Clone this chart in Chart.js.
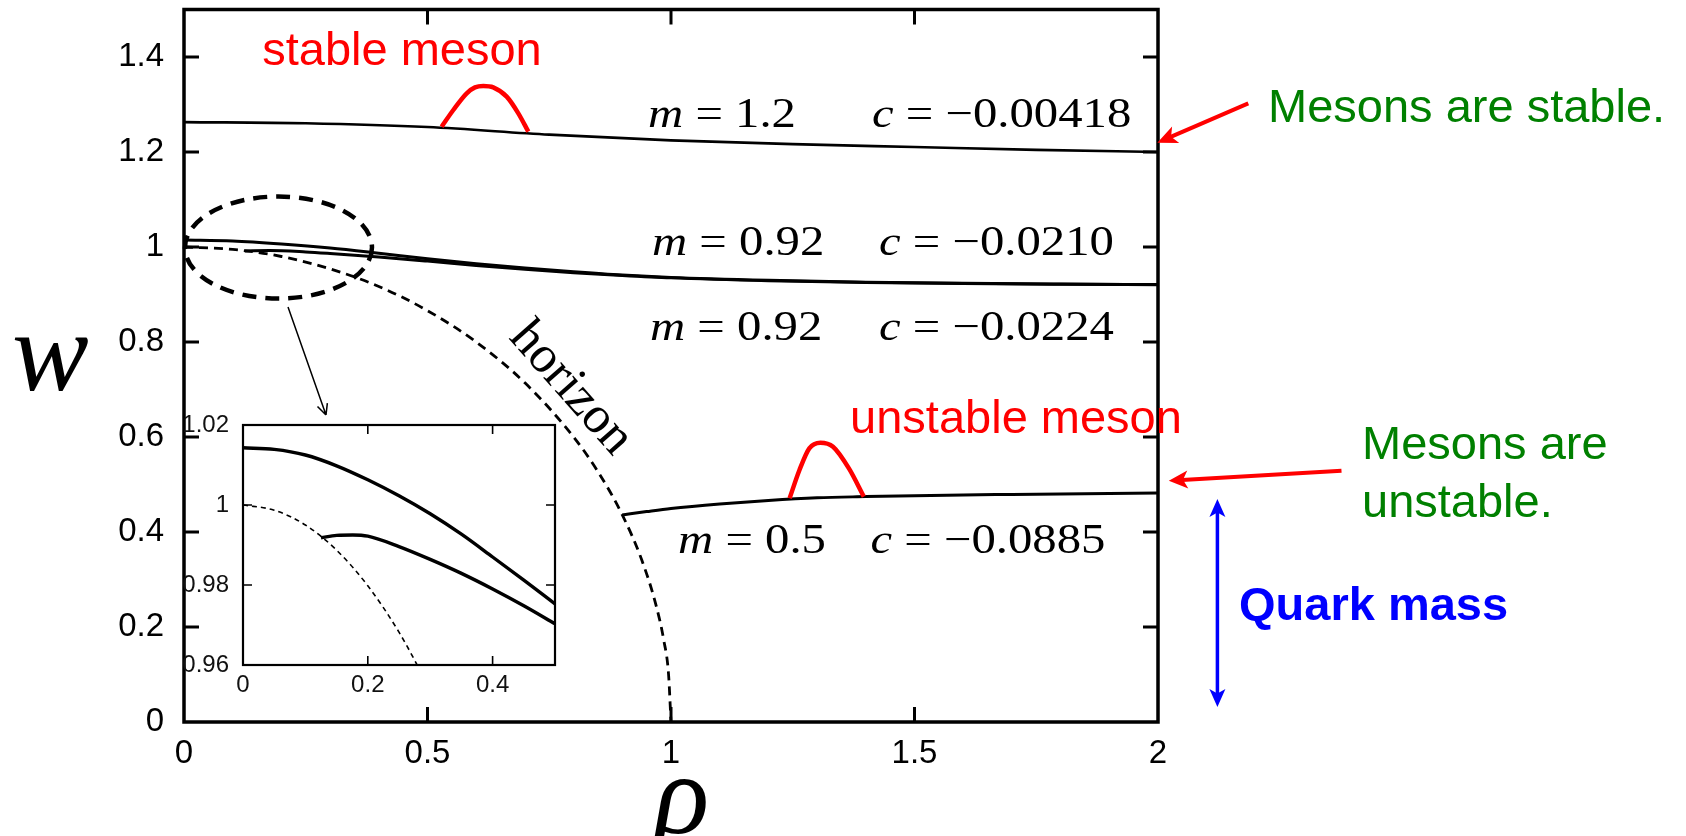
<!DOCTYPE html>
<html>
<head>
<meta charset="utf-8">
<script src="https://cdn.jsdelivr.net/npm/chart.js@4.4.0/dist/chart.umd.min.js"></script>
<style>
  html, body { margin: 0; padding: 0; background: #fff; overflow: hidden; }
  #wrap { position: relative; width: 1686px; height: 836px; }
  #main { position: absolute; left: 0; top: 0; }
  #inset { position: absolute; left: 160px; top: 400px; }
</style>
</head>
<body>
<div id="wrap">
  <canvas id="main" width="1686" height="836"></canvas>
  <canvas id="inset" width="420" height="310"></canvas>
</div>
<script>
// axes
const rhoTicks = [0, 0.5, 1, 1.5, 2];
const rhoTickLabels = ['0', '0.5', '1', '1.5', '2'];
const wTicks = [0, 0.2, 0.4, 0.6, 0.8, 1, 1.2, 1.4];
const wTickLabels = ['0', '0.2', '0.4', '0.6', '0.8', '1', '1.2', '1.4'];
const insetRhoTicks = [0, 0.2, 0.4];
const insetRhoTickLabels = ['0', '0.2', '0.4'];
const insetWTicks = [0.96, 0.98, 1, 1.02];
const insetWTickLabels = ['0.96', '0.98', '1', '1.02'];

// m = 1.2, c = -0.00418
const rhoM12 = [0, 0.25, 0.5, 0.75, 1.0, 1.25, 1.5, 1.75, 2.0];
const wM12 = [1.263, 1.2605, 1.2525, 1.2365, 1.2245, 1.2165, 1.2105, 1.2045, 1.2];

// m = 0.92, c = -0.0210
const rhoM092a = [0, 0.1, 0.2, 0.3, 0.4, 0.5, 0.6, 0.7, 0.8, 0.9, 1.0, 1.2, 1.4, 1.6, 1.8, 2.0];
const wM092a = [1.0145, 1.0125, 1.0063, 0.998, 0.987, 0.9753, 0.965, 0.956, 0.948, 0.941, 0.936, 0.930, 0.926, 0.9235, 0.922, 0.921];

// m = 0.92, c = -0.0224
const rhoM092b = [0.125, 0.176, 0.25, 0.3, 0.4, 0.5, 0.6, 0.7, 0.8, 0.9, 1.0, 1.2, 1.4, 1.6, 1.8, 2.0];
const wM092b = [0.9918, 0.9925, 0.9896, 0.9864, 0.979, 0.9703, 0.961, 0.953, 0.946, 0.940, 0.935, 0.929, 0.9255, 0.923, 0.9215, 0.9205];

// m = 0.5, c = -0.0885
const rhoM05 = [0.9, 0.95, 1.0, 1.1, 1.2, 1.3, 1.4, 1.5, 1.6, 1.7, 1.8, 1.9, 2.0];
const wM05 = [0.436, 0.443, 0.4495, 0.459, 0.4665, 0.472, 0.4745, 0.4765, 0.478, 0.479, 0.480, 0.481, 0.482];

// horizon
const rhoHorizon = [0, 0.1, 0.2, 0.3, 0.4, 0.5, 0.6, 0.7, 0.8, 0.85, 0.9, 0.94, 0.97, 0.985, 0.995, 1.0];
const wHorizon = [1.0, 0.995, 0.98, 0.954, 0.917, 0.866, 0.80, 0.714, 0.60, 0.527, 0.436, 0.341, 0.243, 0.173, 0.1, 0];

// red bumps
const rhoStableBump = [0.529, 0.553, 0.5805, 0.5975, 0.6146, 0.635, 0.6626, 0.6865, 0.707];
const wStableBump = [1.2533, 1.2884, 1.3235, 1.336, 1.3389, 1.336, 1.3165, 1.2814, 1.2428];
const rhoUnstableBump = [1.2435, 1.2638, 1.284, 1.3068, 1.3327, 1.3653, 1.396];
const wUnstableBump = [0.4709, 0.5305, 0.5762, 0.588, 0.5796, 0.534, 0.4744];

// inset
const rhoInsetHorizon = [0, 0.05, 0.1, 0.15, 0.2, 0.25, 0.3];
const wInsetHorizon = [1.0, 0.9987, 0.995, 0.9887, 0.9798, 0.9682, 0.9539];
const rhoInsetA = [0, 0.05, 0.1, 0.15, 0.2, 0.25, 0.3, 0.35, 0.4, 0.45, 0.5];
const wInsetA = [1.0143, 1.0139, 1.0125, 1.0098, 1.0063, 1.0023, 0.9978, 0.9927, 0.987, 0.9812, 0.9753];
const rhoInsetB = [0.125, 0.15, 0.176, 0.2, 0.25, 0.3, 0.35, 0.4, 0.45, 0.5];
const wInsetB = [0.9918, 0.9924, 0.9925, 0.9922, 0.9896, 0.9864, 0.9829, 0.979, 0.9748, 0.9703];

// annotation placement (data coordinates of the main plot)
const mathLabels = [
  { m: ' = 1.2',  c: ' = \u22120.00418', mAt: 0.9528, cAt: 1.4127, w: 1.2526 },
  { m: ' = 0.92', c: ' = \u22120.0210',  mAt: 0.961,  cAt: 1.4271, w: 0.9832 },
  { m: ' = 0.92', c: ' = \u22120.0224',  mAt: 0.9569, cAt: 1.4271, w: 0.8042 },
  { m: ' = 0.5',  c: ' = \u22120.0885',  mAt: 1.0144, cAt: 1.4097, w: 0.3558 }
];
const zoomRing = { rho: 0.194, w: 0.9989, dRho: 0.192, dW: 0.1074 };

function pts(xs, ys) {
  return xs.map((x, i) => ({ x: x, y: ys[i] }));
}

function curve(xs, ys, extra) {
  return Object.assign({
    data: pts(xs, ys),
    borderColor: '#000',
    borderWidth: 3,
    pointRadius: 0,
    fill: false,
    cubicInterpolationMode: 'monotone'
  }, extra || {});
}

// 固定軸的大小，不讓刻度文字再撐開繪圖區
function pinY(width) {
  return s => { s.width = width; s.paddingTop = 0; s.paddingBottom = 0; };
}
function pinX(height) {
  return s => { s.height = height; s.paddingLeft = 0; s.paddingRight = 0; };
}

// 內框線與朝內的刻度
const frame = {
  id: 'frame',
  beforeDraw(chart, args, opts) {
    if (!opts.paper) return;
    const a = chart.chartArea;
    chart.ctx.save();
    chart.ctx.fillStyle = '#fff';
    chart.ctx.fillRect(a.left, a.top, a.right - a.left, a.bottom - a.top);
    chart.ctx.restore();
  },
  afterDatasetsDraw(chart, args, opts) {
    const { ctx, chartArea: a, scales } = chart;
    const sx = scales.x, sy = scales.y;
    ctx.save();
    ctx.strokeStyle = '#000';
    ctx.lineWidth = opts.tickWidth;
    ctx.beginPath();
    sx.ticks.forEach(t => {
      if (t.value <= sx.min || t.value >= sx.max) return;
      const px = sx.getPixelForValue(t.value);
      ctx.moveTo(px, a.bottom); ctx.lineTo(px, a.bottom - opts.tickLen);
      ctx.moveTo(px, a.top); ctx.lineTo(px, a.top + opts.tickLen);
    });
    sy.ticks.forEach(t => {
      if (t.value <= sy.min || t.value >= sy.max) return;
      const py = sy.getPixelForValue(t.value);
      ctx.moveTo(a.left, py); ctx.lineTo(a.left + opts.tickLen, py);
      ctx.moveTo(a.right, py); ctx.lineTo(a.right - opts.tickLen, py);
    });
    ctx.stroke();
    ctx.lineWidth = opts.borderWidth;
    ctx.strokeRect(a.left, a.top, a.right - a.left, a.bottom - a.top);
    ctx.restore();
  }
};

function arrowHead(ctx, x1, y1, x2, y2, len, half) {
  const a = Math.atan2(y2 - y1, x2 - x1);
  const bx = x2 - len * Math.cos(a), by = y2 - len * Math.sin(a);
  ctx.beginPath();
  ctx.moveTo(x2, y2);
  ctx.lineTo(bx + half * Math.sin(a), by - half * Math.cos(a));
  ctx.lineTo(x2 - len * 0.75 * Math.cos(a), y2 - len * 0.75 * Math.sin(a));
  ctx.lineTo(bx - half * Math.sin(a), by + half * Math.cos(a));
  ctx.closePath();
  ctx.fill();
}

function arrow(ctx, x1, y1, x2, y2, color, width, len, half, both) {
  const a = Math.atan2(y2 - y1, x2 - x1);
  ctx.strokeStyle = color;
  ctx.fillStyle = color;
  ctx.lineWidth = width;
  ctx.beginPath();
  ctx.moveTo(both ? x1 + len * 0.7 * Math.cos(a) : x1, both ? y1 + len * 0.7 * Math.sin(a) : y1);
  ctx.lineTo(x2 - len * 0.7 * Math.cos(a), y2 - len * 0.7 * Math.sin(a));
  ctx.stroke();
  arrowHead(ctx, x1, y1, x2, y2, len, half);
  if (both) arrowHead(ctx, x2, y2, x1, y1, len, half);
}

function drawMath(ctx, x, y, parts) {
  ctx.save();
  ctx.translate(x, y);
  ctx.scale(1.16, 1);
  let cx = 0;
  parts.forEach(p => {
    ctx.font = (p.it ? 'italic ' : '') + '42px "Liberation Serif", serif';
    ctx.fillText(p.t, cx, 0);
    cx += ctx.measureText(p.t).width;
  });
  ctx.restore();
}

// 圖上的文字、箭頭與虛線橢圓
const notes = {
  id: 'notes',
  afterDraw(chart) {
    const ctx = chart.ctx;
    const X = v => chart.scales.x.getPixelForValue(v);
    const Y = v => chart.scales.y.getPixelForValue(v);
    ctx.save();
    ctx.textBaseline = 'alphabetic';

    // dashed ring around the small-rho region
    ctx.strokeStyle = '#000';
    ctx.lineWidth = 4.5;
    ctx.setLineDash([14, 9]);
    ctx.beginPath();
    ctx.ellipse(X(zoomRing.rho), Y(zoomRing.w),
      X(zoomRing.rho + zoomRing.dRho) - X(zoomRing.rho),
      Y(zoomRing.w) - Y(zoomRing.w + zoomRing.dW), 0, 0, Math.PI * 2);
    ctx.stroke();
    ctx.setLineDash([]);

    // thin arrow to the inset
    const ax1 = X(0.2136), ay1 = Y(0.8737), ax2 = X(0.2916), ay2 = Y(0.6463);
    ctx.lineWidth = 1.5;
    ctx.beginPath();
    ctx.moveTo(ax1, ay1); ctx.lineTo(ax2, ay2);
    const ang = Math.atan2(ay2 - ay1, ax2 - ax1);
    [0.45, -0.45].forEach(d => {
      ctx.moveTo(ax2, ay2);
      ctx.lineTo(ax2 - 12 * Math.cos(ang + d), ay2 - 12 * Math.sin(ang + d));
    });
    ctx.stroke();

    // math labels
    ctx.fillStyle = '#000';
    ctx.textAlign = 'left';
    mathLabels.forEach(l => {
      drawMath(ctx, X(l.mAt), Y(l.w), [{ t: 'm', it: true }, { t: l.m }]);
      drawMath(ctx, X(l.cAt), Y(l.w), [{ t: 'c', it: true }, { t: l.c }]);
    });

    // horizon
    ctx.save();
    ctx.translate(X(0.6653), Y(0.8084));
    ctx.rotate(48.5 * Math.PI / 180);
    ctx.font = '52px "Liberation Serif", serif';
    ctx.fillText('horizon', 0, 0);
    ctx.restore();

    // axis titles
    ctx.font = 'italic 115px "Liberation Serif", serif';
    ctx.fillText('w', X(-0.3532), Y(0.6989));
    ctx.fillText('\u03c1', X(0.9651), Y(-0.2337));

    // red labels
    ctx.font = '47px "Liberation Sans", Arial, sans-serif';
    ctx.fillStyle = '#ff0000';
    ctx.textAlign = 'center';
    ctx.fillText('stable meson', X(0.4476), Y(1.3832));
    ctx.fillText('unstable meson', X(1.7084), Y(0.6084));

    // green notes
    ctx.fillStyle = '#008000';
    ctx.textAlign = 'left';
    ctx.fillText('Mesons are stable.', X(2.2259), Y(1.2632));
    ctx.fillText('Mesons are', X(2.4189), Y(0.5537));
    ctx.fillText('unstable.', X(2.4189), Y(0.4316));

    // quark mass
    ctx.fillStyle = '#0000ff';
    ctx.font = 'bold 47px "Liberation Sans", Arial, sans-serif';
    ctx.fillText('Quark mass', X(2.1663), Y(0.2147));

    // arrows
    arrow(ctx, X(2.1854), Y(1.3025), X(1.9986), Y(1.2196), '#ff0000', 4, 20, 9, false);
    arrow(ctx, X(2.3768), Y(0.5291), X(2.0222), Y(0.508), '#ff0000', 4, 19, 9, false);
    arrow(ctx, X(2.122), Y(0.4695), X(2.122), Y(0.0316), '#0000ff', 3.5, 18, 8, true);

    ctx.restore();
  }
};

const tickFont = size => ({ family: '"Liberation Sans", Arial, sans-serif', size: size });
const noGrid = { display: false, drawTicks: false };

new Chart(document.getElementById('main'), {
  type: 'line',
  data: {
    datasets: [
      curve(rhoStableBump, wStableBump, { borderColor: '#ff0000', borderWidth: 4.5 }),
      curve(rhoUnstableBump, wUnstableBump, { borderColor: '#ff0000', borderWidth: 4.5 }),
      curve(rhoM12, wM12, { borderWidth: 2.6 }),
      curve(rhoM092a, wM092a),
      curve(rhoM092b, wM092b),
      curve(rhoM05, wM05),
      curve(rhoHorizon, wHorizon, { borderWidth: 2.8, borderDash: [9, 6] })
    ]
  },
  options: {
    responsive: false,
    animation: false,
    events: [],
    layout: { padding: { left: 0, right: 528, top: 9.5, bottom: 0 } },
    plugins: {
      legend: { display: false },
      tooltip: { enabled: false },
      frame: { tickLen: 15, tickWidth: 3, borderWidth: 3.5, paper: false }
    },
    scales: {
      x: {
        type: 'linear', min: 0, max: 2,
        grid: noGrid, border: { display: false },
        afterBuildTicks: s => { s.ticks = rhoTicks.map(v => ({ value: v })); },
        afterFit: pinX(114),
        ticks: {
          autoSkip: false, maxRotation: 0, padding: 12, color: '#000', font: tickFont(33),
          callback: (v, i) => rhoTickLabels[i]
        }
      },
      y: {
        type: 'linear', min: 0, max: 1.5,
        grid: noGrid, border: { display: false },
        afterBuildTicks: s => { s.ticks = wTicks.map(v => ({ value: v })); },
        afterFit: pinY(184),
        ticks: {
          autoSkip: false, padding: 20, color: '#000', font: tickFont(33),
          callback: (v, i) => wTickLabels[i]
        }
      }
    }
  },
  plugins: [frame, notes]
});

new Chart(document.getElementById('inset'), {
  type: 'line',
  data: {
    datasets: [
      curve(rhoInsetA, wInsetA, { borderWidth: 3.4 }),
      curve(rhoInsetB, wInsetB, { borderWidth: 3.4 }),
      curve(rhoInsetHorizon, wInsetHorizon, { borderWidth: 1.6, borderDash: [5, 4] })
    ]
  },
  options: {
    responsive: false,
    animation: false,
    events: [],
    layout: { padding: { left: 0, right: 25, top: 25, bottom: 0 } },
    plugins: {
      legend: { display: false },
      tooltip: { enabled: false },
      frame: { tickLen: 9, tickWidth: 1.6, borderWidth: 2.2, paper: true }
    },
    scales: {
      x: {
        type: 'linear', min: 0, max: 0.5,
        grid: noGrid, border: { display: false },
        afterBuildTicks: s => { s.ticks = insetRhoTicks.map(v => ({ value: v })); },
        afterFit: pinX(45),
        ticks: {
          autoSkip: false, maxRotation: 0, padding: 6, color: '#111', font: tickFont(24),
          callback: (v, i) => insetRhoTickLabels[i]
        }
      },
      y: {
        type: 'linear', min: 0.96, max: 1.02,
        grid: noGrid, border: { display: false },
        afterBuildTicks: s => { s.ticks = insetWTicks.map(v => ({ value: v })); },
        afterFit: pinY(83),
        ticks: {
          autoSkip: false, padding: 14, color: '#111', font: tickFont(24),
          callback: (v, i) => insetWTickLabels[i]
        }
      }
    }
  },
  plugins: [frame]
});
</script>
</body>
</html>
